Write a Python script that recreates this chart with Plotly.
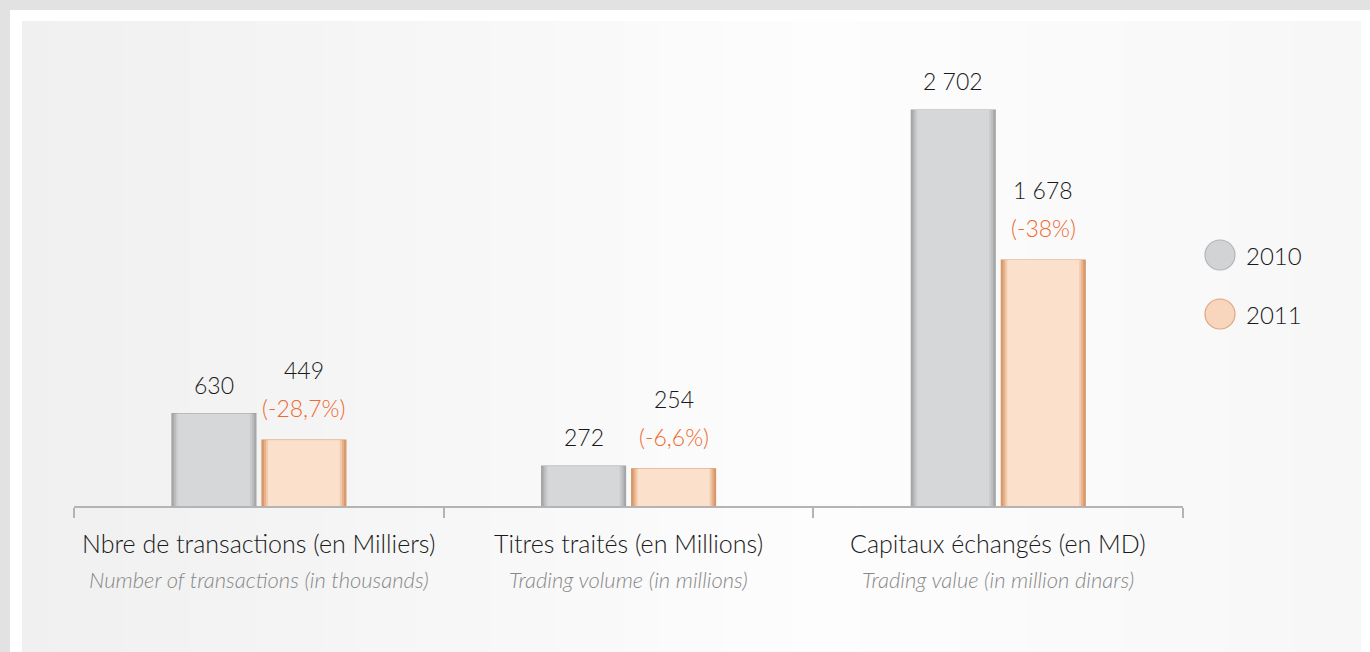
import plotly.graph_objects as go

# ---- data ----
categories_fr = ["Nbre de transactions (en Milliers)", "Titres traités (en Millions)", "Capitaux échangés (en MD)"]
categories_en = ["Number of transactions (in thousands)", "Trading volume (in millions)", "Trading value (in million dinars)"]
series_names = ["2010", "2011"]
values_2010 = [630, 272, 2702]
values_2011 = [449, 254, 1678]
change_2011 = ["(-28,7%)", "(-6,6%)", "(-38%)"]

# ---- layout geometry (pixels) ----
W, H = 1370, 652
ML, MR, MT, MB = 74, 187, 40, 146
PW = W - ML - MR
PH = H - MT - MB

def px(p):
    return (p - ML) / PW

def py(p):
    return (H - MB - p) / PH

FONT = "Lato"
bar_w = 0.227
off_a = -0.235
off_b = 0.0085
unit = 1 / 369.7  # one pixel in x data units

def fmt(v):
    return f"{v:,}".replace(",", " ")

xs = list(range(len(categories_fr)))

# bevel layers: (inset px, colour 2010, colour 2011)
layers = [
    (0, "#a9aaac", "#d99a6c"),
    (2, "#bbbcbe", "#e7b28c"),
    (4, "#cacbcd", "#f2cbad"),
    (6, "#d6d7d9", "#fbe0cc"),
]

fig = go.Figure()
for k, (ins, c10, c11) in enumerate(layers):
    d = ins * unit
    fig.add_trace(go.Bar(
        x=xs, y=values_2010, name=series_names[0], width=bar_w - 2 * d, offset=off_a + d,
        marker=dict(color=c10, line=dict(color="#a3a4a6", width=1.2 if k == 0 else 0)),
        showlegend=False, hoverinfo="skip"))
    fig.add_trace(go.Bar(
        x=xs, y=values_2011, name=series_names[1], width=bar_w - 2 * d, offset=off_b + d,
        marker=dict(color=c11, line=dict(color="#d9976a", width=1.2 if k == 0 else 0)),
        showlegend=False, hoverinfo="skip"))

shapes = []
# outer shadow strips
shapes.append(dict(type="rect", xref="paper", yref="paper", x0=px(0), x1=px(W), y0=py(0), y1=py(10),
                   fillcolor="#e2e2e2", line_width=0, layer="below"))
shapes.append(dict(type="rect", xref="paper", yref="paper", x0=px(0), x1=px(10), y0=py(0), y1=py(H),
                   fillcolor="#e2e2e2", line_width=0, layer="below"))
# inner panel gradient (approximated by strips)
x_start, x_end = 22, 1361
n = 40
def lerp(a, b, t):
    return int(round(a + (b - a) * t))
for i in range(n):
    t = i / (n - 1)
    if t < 0.6:
        c = lerp(0xf0, 0xfd, t / 0.6)
    else:
        c = lerp(0xfd, 0xf7, (t - 0.6) / 0.4)
    a = x_start + (x_end - x_start) * i / n
    b = x_start + (x_end - x_start) * (i + 1) / n + 1
    shapes.append(dict(type="rect", xref="paper", yref="paper", x0=px(a), x1=px(min(b, x_end)),
                       y0=py(21), y1=py(H), fillcolor=f"rgb({c},{c},{c})", line_width=0, layer="below"))

# legend circles
leg_cols = [("#d2d3d5", "#b3b4b6"), ("#f8d6bd", "#e0a57d")]
leg_y = [255, 314]
for (fc, lc), yy in zip(leg_cols, leg_y):
    shapes.append(dict(type="circle", xref="paper", yref="paper",
                       x0=px(1205), x1=px(1235), y0=py(yy + 15), y1=py(yy - 15),
                       fillcolor=fc, line=dict(color=lc, width=1.2)))

annotations = []
for i in xs:
    annotations.append(dict(x=i + off_a + bar_w / 2, y=values_2010[i], xref="x", yref="y",
                            text=fmt(values_2010[i]), showarrow=False, yanchor="middle", yshift=29,
                            font=dict(family=FONT, size=23, color="#1a1a1a", weight=300)))
    annotations.append(dict(x=i + off_b + bar_w / 2, y=values_2011[i], xref="x", yref="y",
                            text=fmt(values_2011[i]), showarrow=False, yanchor="middle", yshift=70,
                            font=dict(family=FONT, size=23, color="#1a1a1a", weight=300)))
    annotations.append(dict(x=i + off_b + bar_w / 2, y=values_2011[i], xref="x", yref="y",
                            text=change_2011[i], showarrow=False, yanchor="middle", yshift=32,
                            font=dict(family=FONT, size=23, color="#ee6a30", weight=300)))
    annotations.append(dict(x=i, y=0, xref="x", yref="y", text=categories_fr[i], showarrow=False,
                            yanchor="middle", yshift=-37,
                            font=dict(family=FONT, size=25, color="#1a1a1a", weight=300)))
    annotations.append(dict(x=i, y=0, xref="x", yref="y", text=f"<i>{categories_en[i]}</i>", showarrow=False,
                            yanchor="middle", yshift=-73,
                            font=dict(family=FONT, size=22, color="#888888", weight=300)))

for name, yy in zip(series_names, leg_y):
    annotations.append(dict(x=px(1244), y=py(yy), xref="paper", yref="paper", text=name, showarrow=False,
                            xanchor="left", yanchor="middle",
                            font=dict(family=FONT, size=24, color="#1a1a1a", weight=300)))

fig.update_layout(
    width=W, height=H,
    margin=dict(l=ML, r=MR, t=MT, b=MB, pad=0),
    paper_bgcolor="#ffffff", plot_bgcolor="rgba(0,0,0,0)",
    barmode="overlay",
    shapes=shapes, annotations=annotations,
    xaxis=dict(range=[-0.5, 2.5], tickvals=[-0.5, 0.5, 1.5, 2.5], showticklabels=False,
               ticks="outside", ticklen=10, tickcolor="#b4b4b4", tickwidth=1.5,
               showline=True, linecolor="#b4b4b4", linewidth=1.5, showgrid=False, zeroline=False,
               fixedrange=True),
    yaxis=dict(range=[0, 3180], visible=False, showgrid=False, zeroline=False, fixedrange=True),
    showlegend=False,
)

fig.write_html("out.html", config={"displayModeBar": False},
               post_script="document.body.style.margin='0';document.body.style.padding='0';")
